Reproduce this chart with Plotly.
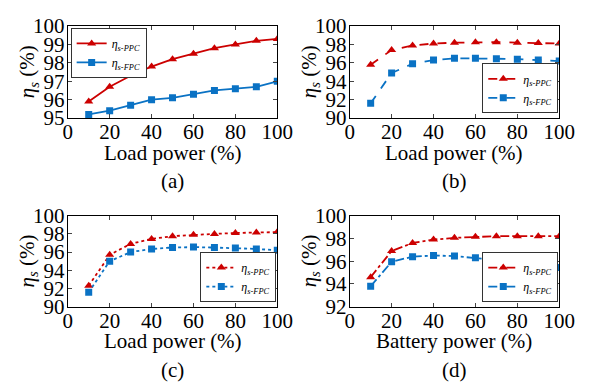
import plotly.graph_objects as go

x_vals = [10, 20, 30, 40, 50, 60, 70, 80, 90, 100]

a_ppc = [95.9, 96.7, 97.3, 97.8, 98.2, 98.5, 98.8, 99.0, 99.2, 99.3]
a_fpc = [95.2, 95.4, 95.7, 96.0, 96.1, 96.3, 96.5, 96.6, 96.7, 97.0]

b_ppc = [95.8, 97.4, 97.9, 98.1, 98.2, 98.25, 98.25, 98.2, 98.15, 98.1]
b_fpc = [91.6, 94.9, 95.9, 96.3, 96.5, 96.5, 96.45, 96.4, 96.3, 96.2]

c_ppc = [92.3, 95.7, 96.9, 97.45, 97.75, 97.9, 98.0, 98.1, 98.15, 98.2]
c_fpc = [91.6, 95.0, 96.0, 96.35, 96.5, 96.55, 96.5, 96.45, 96.35, 96.2]

d_ppc = [94.6, 96.9, 97.6, 97.9, 98.05, 98.15, 98.2, 98.2, 98.2, 98.2]
d_fpc = [93.8, 95.95, 96.4, 96.5, 96.45, 96.3, 96.1, 95.9, 95.7, 95.45]

x_ticks = [0, 20, 40, 60, 80, 100]
y_ticks_a = [95, 96, 97, 98, 99, 100]
y_ticks_bc = [90, 92, 94, 96, 98, 100]
y_ticks_d = [92, 94, 96, 98, 100]

x_titles = ["Load power (%)", "Load power (%)", "Load power (%)", "Battery power (%)"]
panel_labels = ["(a)", "(b)", "(c)", "(d)"]
name_ppc = "<i>η</i><sub><i>s-PPC</i></sub>"
name_fpc = "<i>η</i><sub><i>s-FPC</i></sub>"

RED = "#CC0000"
BLUE = "#0A72C4"
FONT = "Liberation Serif, Times New Roman, serif"
W, H = 610, 391

# panel pixel boxes: (left, right, top, bottom)
boxes = [(65, 282, 15, 113), (357, 574, 15, 113), (65, 282, 217, 314), (357, 574, 217, 314)]
dashes = ["solid", "dash", "dot", "dashdot"]
series = [(a_ppc, a_fpc), (b_ppc, b_fpc), (c_ppc, c_fpc), (d_ppc, d_fpc)]
yranges = [(95, 100), (90, 100), (90, 100), (92, 100)]
yticks = [y_ticks_a, y_ticks_bc, y_ticks_bc, y_ticks_d]

fig = go.Figure()
layout = dict(width=W, height=H, margin=dict(l=0, r=0, t=0, b=0),
              paper_bgcolor="white", plot_bgcolor="white",
              font=dict(family=FONT, size=21, color="black"), showlegend=True)
annotations = []

for i in range(4):
    l, r, t, b = boxes[i]
    sx = "" if i == 0 else str(i + 1)
    xa = "xaxis" + sx
    ya = "yaxis" + sx
    lg = "legend" if i == 0 else "legend" + str(i + 1)
    ppc, fpc = series[i]
    fig.add_trace(go.Scatter(x=x_vals, y=ppc, mode="lines+markers", name=name_ppc,
                             line=dict(color=RED, width=1.8, dash=dashes[i]),
                             marker=dict(symbol="triangle-up", size=8, color=RED),
                             xaxis="x" + sx, yaxis="y" + sx, legend=lg))
    fig.add_trace(go.Scatter(x=x_vals, y=fpc, mode="lines+markers", name=name_fpc,
                             line=dict(color=BLUE, width=1.8, dash=dashes[i]),
                             marker=dict(symbol="square", size=7, color=BLUE),
                             xaxis="x" + sx, yaxis="y" + sx, legend=lg))
    layout[xa] = dict(domain=[l / W, r / W], range=[0, 100], tickvals=x_ticks,
                      ticks="inside", ticklen=4, mirror="ticks", showline=True,
                      linecolor="black", linewidth=1, showgrid=False, zeroline=False,
                      anchor="y" + sx, tickfont=dict(size=21), ticklabelstandoff=-5)
    layout[ya] = dict(domain=[1 - b / H, 1 - t / H], range=list(yranges[i]), tickvals=yticks[i],
                      ticks="inside", ticklen=4, mirror="ticks", showline=True,
                      linecolor="black", linewidth=1, showgrid=False, zeroline=False,
                      anchor="x" + sx, tickfont=dict(size=21), ticklabelstandoff=-2)
    cx = (l + r) / 2
    annotations.append(dict(text=x_titles[i], x=cx / W, y=1 - (b + 37) / H, xref="paper", yref="paper",
                            showarrow=False, font=dict(size=21), xanchor="center", yanchor="middle"))
    annotations.append(dict(text=panel_labels[i], x=cx / W, y=1 - (b + 67) / H, xref="paper", yref="paper",
                            showarrow=False, font=dict(size=21), xanchor="center", yanchor="middle"))
    annotations.append(dict(text="<i>η</i><sub><i>s</i></sub> (%)", x=(l - 41) / W, y=1 - ((t + b) / 2) / H,
                            xref="paper", yref="paper", showarrow=False, textangle=-90,
                            font=dict(size=21), xanchor="center", yanchor="middle"))
    if i == 0:
        lx, ly, xan, yan = (l + 3) / W, 1 - (t + 2) / H, "left", "top"
    else:
        lx, ly, xan, yan = (r - 1) / W, 1 - (b - 5) / H, "right", "bottom"
    layout[lg] = dict(x=lx, y=ly, xanchor=xan, yanchor=yan, bgcolor="white",
                      bordercolor="#333333", borderwidth=1, font=dict(size=12),
                      tracegroupgap=0, itemwidth=30)

layout["annotations"] = annotations
fig.update_layout(**layout)
fig.write_html("out.html")
